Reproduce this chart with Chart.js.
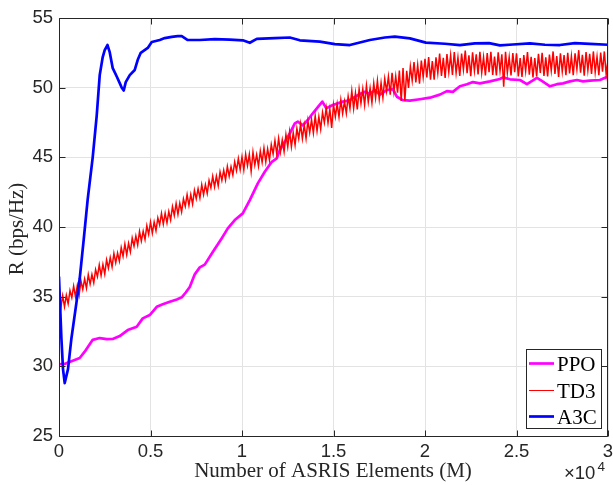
<!DOCTYPE html>
<html><head><meta charset="utf-8">
<script src="https://cdn.jsdelivr.net/npm/chart.js@4/dist/chart.umd.min.js"></script>
<style>html,body{margin:0;padding:0;background:#fff;}canvas{display:block;}</style>
</head><body>
<canvas id="c" width="613" height="485"></canvas>
<script>
const seriesNames = ['PPO', 'TD3', 'A3C'];
const xTickValues = [0, 5000, 10000, 15000, 20000, 25000, 30000];
const xTickLabels = ['0', '0.5', '1', '1.5', '2', '2.5', '3'];
const yTickValues = [25, 30, 35, 40, 45, 50, 55];

const ppoX = [0,366,749,1132,1405,1842,2225,2608,2936,3319,3756,4248,4576,4959,5341,5669,6052,6435,6708,6927,7145,7419,7692,7965,8403,8895,9223,9606,10043,10426,10864,11246,11629,11902,12067,12613,12887,13051,13324,13598,13871,14144,14390,14608,14963,15510,15893,16330,16713,16986,17260,17533,17916,18244,18462,18790,19173,19720,20266,20813,21196,21524,21907,22290,22618,23000,23547,24094,24258,24640,25187,25570,26117,26445,26827,27210,27538,27921,28304,28632,29014,29560,30000];
const ppoY = [30.15,30.2,30.4,30.6,31.05,31.9,32.03,31.95,31.96,32.17,32.6,32.84,33.44,33.68,34.27,34.45,34.63,34.8,34.95,35.3,35.7,36.6,37.1,37.3,38.2,39.2,39.9,40.5,40.98,41.93,43.13,43.97,44.68,44.93,45.52,46.72,47.44,47.56,47.3,47.68,48.16,48.6,49.0,48.52,48.75,49.0,49.1,49.47,49.7,49.54,49.83,49.5,49.83,49.9,49.35,49.1,49.07,49.17,49.28,49.5,49.75,49.7,50.1,50.25,50.4,50.31,50.45,50.62,50.74,50.6,50.55,50.25,50.7,50.43,50.1,50.25,50.31,50.45,50.55,50.45,50.5,50.55,50.8];

const td3Step = 100;
const td3Y = [
34.81,34.19,35.07,34.29,35.10,34.49,35.43,34.93,35.76,35.01,35.80,35.12,36.13,35.53,36.27,35.61,36.58,35.90,36.59,36.00,
36.94,36.44,37.28,36.52,37.31,36.63,37.64,37.05,37.80,37.14,38.11,37.43,38.13,37.55,38.52,37.90,38.78,38.01,38.83,38.22,
39.21,38.62,39.36,38.71,39.68,39.00,39.70,39.11,40.09,39.47,40.35,39.56,40.36,39.74,40.66,40.15,40.98,40.21,40.99,40.29,
41.11,40.51,41.46,40.83,41.69,40.91,41.71,41.08,42.01,41.49,42.32,41.56,42.33,41.64,42.63,42.03,42.75,42.08,43.03,42.33,
43.04,42.41,43.34,42.82,43.64,42.88,43.65,42.96,43.95,43.34,44.07,43.39,44.35,43.65,44.33,43.73,44.68,44.05,44.91,44.12,
45.04,44.10,45.23,44.41,45.21,44.00,45.38,44.45,45.19,44.37,45.45,44.64,45.66,44.67,45.60,44.81,45.91,45.24,46.21,45.24,
46.36,45.39,46.25,45.40,46.63,45.75,46.85,45.76,46.77,45.89,47.08,46.35,47.39,46.34,47.32,46.35,47.63,46.78,47.70,46.76,
47.98,46.89,47.91,47.03,48.22,47.49,48.53,47.47,48.45,47.11,48.76,47.92,48.84,47.90,49.12,48.15,49.01,48.16,49.38,48.50,
49.77,48.50,49.61,48.43,49.90,48.87,49.91,48.77,50.16,48.99,49.97,48.93,50.32,49.26,50.51,49.19,50.34,49.28,50.64,49.74,
50.79,49.49,51.07,49.72,50.82,49.64,51.22,49.05,51.41,49.07,51.21,49.98,51.52,50.50,51.84,50.37,51.63,50.29,51.95,50.76,
52.07,50.73,52.20,50.57,51.91,50.58,52.17,51.05,52.44,50.85,52.15,50.69,52.41,51.12,52.33,50.91,52.55,51.06,52.17,50.85,
52.44,51.29,52.66,51.04,52.32,50.83,52.53,51.21,52.40,50.95,52.57,51.08,52.19,50.87,52.49,51.12,52.57,50.91,52.23,50.87,
52.53,51.21,52.40,50.07,52.57,51.08,52.19,50.87,52.49,51.12,52.47,50.81,52.13,50.77,52.34,51.19,52.56,50.94,52.22,50.73,
52.13,50.81,52.43,51.06,52.51,50.85,52.17,50.81,52.38,51.23,52.60,50.98,52.26,50.77,52.47,51.15,52.34,50.89,52.51,51.02,
52.26,50.90,52.47,51.32,52.69,51.07,52.35,50.86,52.56,51.24,52.43,50.98,52.60,51.11,52.22,50.90,52.52,51.15,52.60,50.94,
52.00];

const a3cX = [0,131,219,312,492,678,951,1132,1350,1569,1842,2061,2225,2389,2498,2646,2772,2936,3155,3319,3428,3538,3647,3866,4139,4303,4467,4850,5068,5506,5779,6162,6490,6708,7036,7692,8512,9332,10043,10426,10809,11793,12613,13160,14253,15073,15893,16986,17806,18353,19173,20048,21087,21907,22727,23500,24093,24800,25733,26553,27373,28193,29013,30000];
const a3cY = [36.4,32.0,29.8,28.8,29.8,32.0,34.55,36.3,39.1,42.0,45.0,48.0,50.9,52.2,52.7,53.06,52.55,51.4,50.8,50.33,50.0,49.8,50.4,50.9,51.27,52.0,52.5,52.85,53.28,53.42,53.56,53.65,53.7,53.7,53.42,53.42,53.48,53.45,53.4,53.22,53.5,53.55,53.6,53.4,53.3,53.13,53.06,53.42,53.6,53.66,53.54,53.23,53.15,53.05,53.18,53.2,53.04,53.1,53.18,53.08,53.06,53.2,53.15,53.08];

const colors = ['#ff00ff', '#ff0000', '#0000ff'];
const widths = [2.7, 1.5, 2.7];
const legendWidths = [2.7, 1, 2.7];

const SANS = '"Liberation Sans", Arial, Helvetica, sans-serif';
const SERIF = '"Liberation Serif", "Times New Roman", Times, serif';
const AX = '#262626';

const toXY = (xs, ys) => ys.map((y, i) => ({ x: xs[i], y }));
const td3X = td3Y.map((_, i) => i * td3Step);

const decor = {
  id: 'decor',
  afterDraw(chart) {
    const { ctx, chartArea: a, scales } = chart;
    const xs = scales.x, ys = scales.y;
    ctx.save();
    ctx.strokeStyle = AX;
    ctx.lineWidth = 1;
    const L = Math.round(a.left) + 0.5, R = Math.round(a.right) - 0.5;
    const T = Math.round(a.top) + 0.5, B = Math.round(a.bottom) + 0.5;
    ctx.beginPath();
    ctx.moveTo(L, T); ctx.lineTo(R, T); ctx.lineTo(R, B); ctx.lineTo(L, B); ctx.closePath();
    xTickValues.forEach(v => {
      const p = Math.round(xs.getPixelForValue(v)) + 0.5;
      ctx.moveTo(p, B); ctx.lineTo(p, B - 6);
      ctx.moveTo(p, T); ctx.lineTo(p, T + 6);
    });
    yTickValues.forEach(v => {
      const p = Math.round(ys.getPixelForValue(v)) + 0.5;
      ctx.moveTo(L, p); ctx.lineTo(L + 6, p);
      ctx.moveTo(R, p); ctx.lineTo(R - 6, p);
    });
    ctx.stroke();

    ctx.fillStyle = AX;
    ctx.font = '21px ' + SERIF;
    ctx.textAlign = 'center';
    ctx.textBaseline = 'alphabetic';
    ctx.fillText('Number of ASRIS Elements (M)', 333, 477);
    ctx.save();
    ctx.translate(17, 229);
    ctx.rotate(-Math.PI / 2);
    ctx.textBaseline = 'middle';
    ctx.fillText('R (bps/Hz)', 0, 0);
    ctx.restore();

    ctx.textAlign = 'left';
    ctx.font = '18.5px ' + SANS;
    ctx.fillText('\u00d710', 564, 479);
    ctx.font = '13.5px ' + SANS;
    ctx.fillText('4', 597.5, 471);

    const bx = 526.5, by = 349.5, bw = 75, bh = 79;
    ctx.fillStyle = '#ffffff';
    ctx.fillRect(bx, by, bw, bh);
    ctx.strokeStyle = AX;
    ctx.lineWidth = 1;
    ctx.strokeRect(bx, by, bw, bh);
    const rows = [363.5, 390.5, 416.5];
    seriesNames.forEach((name, i) => {
      ctx.beginPath();
      ctx.strokeStyle = colors[i];
      ctx.lineWidth = legendWidths[i];
      ctx.moveTo(529, rows[i]); ctx.lineTo(554, rows[i]);
      ctx.stroke();
      ctx.fillStyle = '#000000';
      ctx.font = '21px ' + SERIF;
      ctx.textBaseline = 'alphabetic';
      ctx.fillText(name, 557, rows[i] + 7.5);
    });
    ctx.restore();
  }
};

new Chart(document.getElementById('c'), {
  type: 'line',
  data: {
    datasets: [
      { label: seriesNames[0], data: toXY(ppoX, ppoY), borderColor: colors[0], borderWidth: widths[0], pointRadius: 0, fill: false, tension: 0, order: 3, borderJoinStyle: 'round', borderCapStyle: 'round' },
      { label: seriesNames[1], data: toXY(td3X, td3Y), borderColor: colors[1], borderWidth: widths[1], pointRadius: 0, fill: false, tension: 0, order: 2 },
      { label: seriesNames[2], data: toXY(a3cX, a3cY), borderColor: colors[2], borderWidth: widths[2], pointRadius: 0, fill: false, tension: 0, order: 1, borderJoinStyle: 'round', borderCapStyle: 'round' }
    ]
  },
  options: {
    responsive: false,
    animation: false,
    events: [],
    layout: { padding: { top: 18, right: 5, left: 0, bottom: 0 } },
    plugins: { legend: { display: false }, tooltip: { enabled: false } },
    scales: {
      x: {
        type: 'linear', min: 0, max: 30000,
        afterFit: s => { s.height = 49; s.paddingLeft = 0; s.paddingRight = 0; },
        afterBuildTicks: s => { s.ticks = xTickValues.map(v => ({ value: v })); },
        ticks: { autoSkip: false, maxRotation: 0, padding: 5, color: AX, font: { family: SANS, size: 18.5 },
          callback: (v, i) => xTickLabels[i] },
        grid: { color: '#e3e3e3', lineWidth: 1, drawTicks: false },
        border: { display: false }
      },
      y: {
        type: 'linear', min: 25, max: 55,
        afterFit: s => { s.width = 59; s.paddingTop = 0; s.paddingBottom = 0; },
        afterBuildTicks: s => { s.ticks = yTickValues.map(v => ({ value: v })); },
        ticks: { autoSkip: false, padding: 6, color: AX, font: { family: SANS, size: 18.5 },
          callback: v => String(v) },
        grid: { color: '#e3e3e3', lineWidth: 1, drawTicks: false },
        border: { display: false }
      }
    }
  },
  plugins: [decor]
});
</script>
</body></html>
